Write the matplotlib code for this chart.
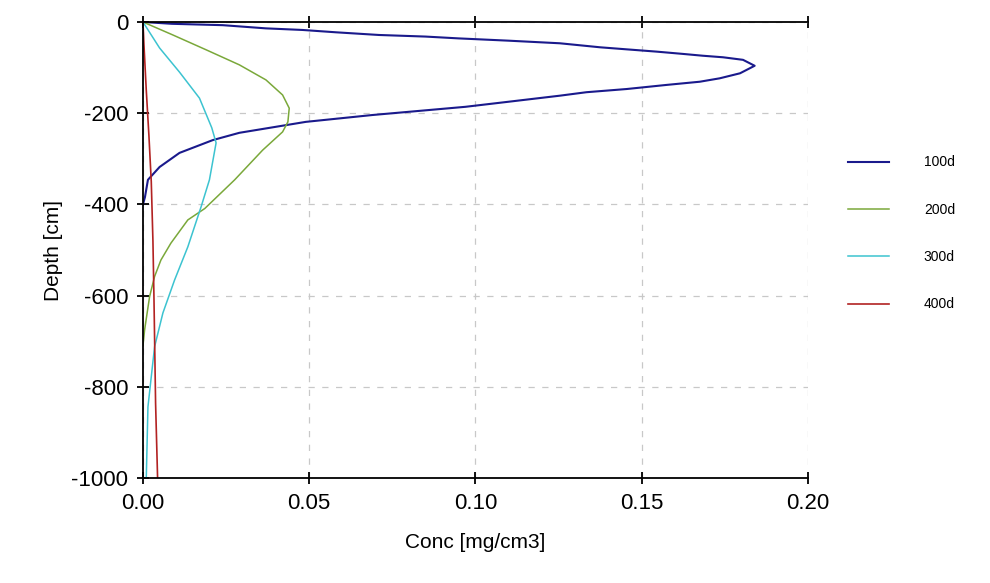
import numpy as np
import matplotlib
matplotlib.use('Agg')
import matplotlib.pyplot as plt

plt.rcParams['font.family'] = ['Liberation Sans', 'DejaVu Sans']
plt.rcParams['axes.unicode_minus'] = False

# profiles: (conc [mg/cm3], depth [cm])
labels = ['100d', '200d', '300d', '400d']
colors = ['#1a1a8c', '#7aa83a', '#3cc3d0', '#b22222']

blue_conc = [0.0, 0.0087, 0.024, 0.037, 0.048, 0.058, 0.071, 0.085, 0.095, 0.11, 0.1254,
             0.1375, 0.1455, 0.1545, 0.1624, 0.1684, 0.1745, 0.1805, 0.184,
             0.1796, 0.1735, 0.1675, 0.1575, 0.1455, 0.1334, 0.1254, 0.111, 0.097,
             0.069, 0.049, 0.029, 0.021, 0.011, 0.005, 0.0015, 0.0006, 0.0]
blue_depth = [0, -4, -7, -14, -17.5, -22.6, -28.5, -32, -36, -41, -46.7,
              -55.5, -60, -65, -70, -74, -77.4, -83, -96,
              -112.5, -123.5, -131, -138, -147, -154, -161.6, -174, -186,
              -204, -219, -243, -259, -287, -318, -346, -384, -400]

green_conc = [0.0, 0.009, 0.019, 0.029, 0.037, 0.042, 0.044, 0.0436, 0.042, 0.036,
              0.0276, 0.0186, 0.0135, 0.0084, 0.0054, 0.0035, 0.002, 0.0005, 0.0]
green_depth = [0, -28.5, -61, -94, -127, -160, -189, -219, -241, -281,
               -346, -409, -434, -485, -522, -558, -602, -675, -710]

cyan_conc = [0.0, 0.005, 0.011, 0.017, 0.0207, 0.022, 0.020, 0.0175, 0.0135, 0.0095,
             0.006, 0.0035, 0.0015, 0.001]
cyan_depth = [0, -57, -110, -167, -232, -265, -346, -405, -493, -566,
              -638, -712, -844, -1000]

red_conc = [0.0, 0.0003, 0.001, 0.0018, 0.0025, 0.003, 0.0033, 0.0038, 0.0044]
red_depth = [0, -50, -150, -250, -350, -480, -600, -836, -1000]

fig = plt.figure(figsize=(9.9, 5.83), dpi=100)
ax = fig.add_axes([0.1444, 0.180, 0.6716, 0.7823])

ax.plot(blue_conc, blue_depth, color=colors[0], lw=1.5, label=labels[0])
ax.plot(green_conc, green_depth, color=colors[1], lw=1.1, label=labels[1])
ax.plot(cyan_conc, cyan_depth, color=colors[2], lw=1.1, label=labels[2])
ax.plot(red_conc, red_depth, color=colors[3], lw=1.2, label=labels[3])

ax.set_xlim(0, 0.2)
ax.set_ylim(-1000, 0)
ax.set_xticks([0.0, 0.05, 0.10, 0.15, 0.20])
ax.set_xticklabels(['0.00', '0.05', '0.10', '0.15', '0.20'])
ax.set_yticks([0, -200, -400, -600, -800, -1000])

ax.spines['right'].set_visible(False)
for s in ['left', 'top', 'bottom']:
    ax.spines[s].set_linewidth(1.3)
ax.tick_params(axis='both', direction='inout', length=9, width=1.3, labelsize=16,
               top=True, pad=6)
ax.grid(True, linestyle=(0, (5, 6)), color='#c8c8c8', lw=0.9)
ax.set_axisbelow(True)

ax.set_xlabel('Conc [mg/cm3]', fontsize=15, labelpad=14)
ax.set_ylabel('Depth [cm]', fontsize=15, labelpad=6)

fig.legend(loc='upper left', bbox_to_anchor=(835 / 990, 1 - 143 / 583), frameon=False,
           fontsize=10, labelspacing=2.4, handlelength=3.0, handletextpad=2.5)

fig.savefig('out.png', dpi=100)
